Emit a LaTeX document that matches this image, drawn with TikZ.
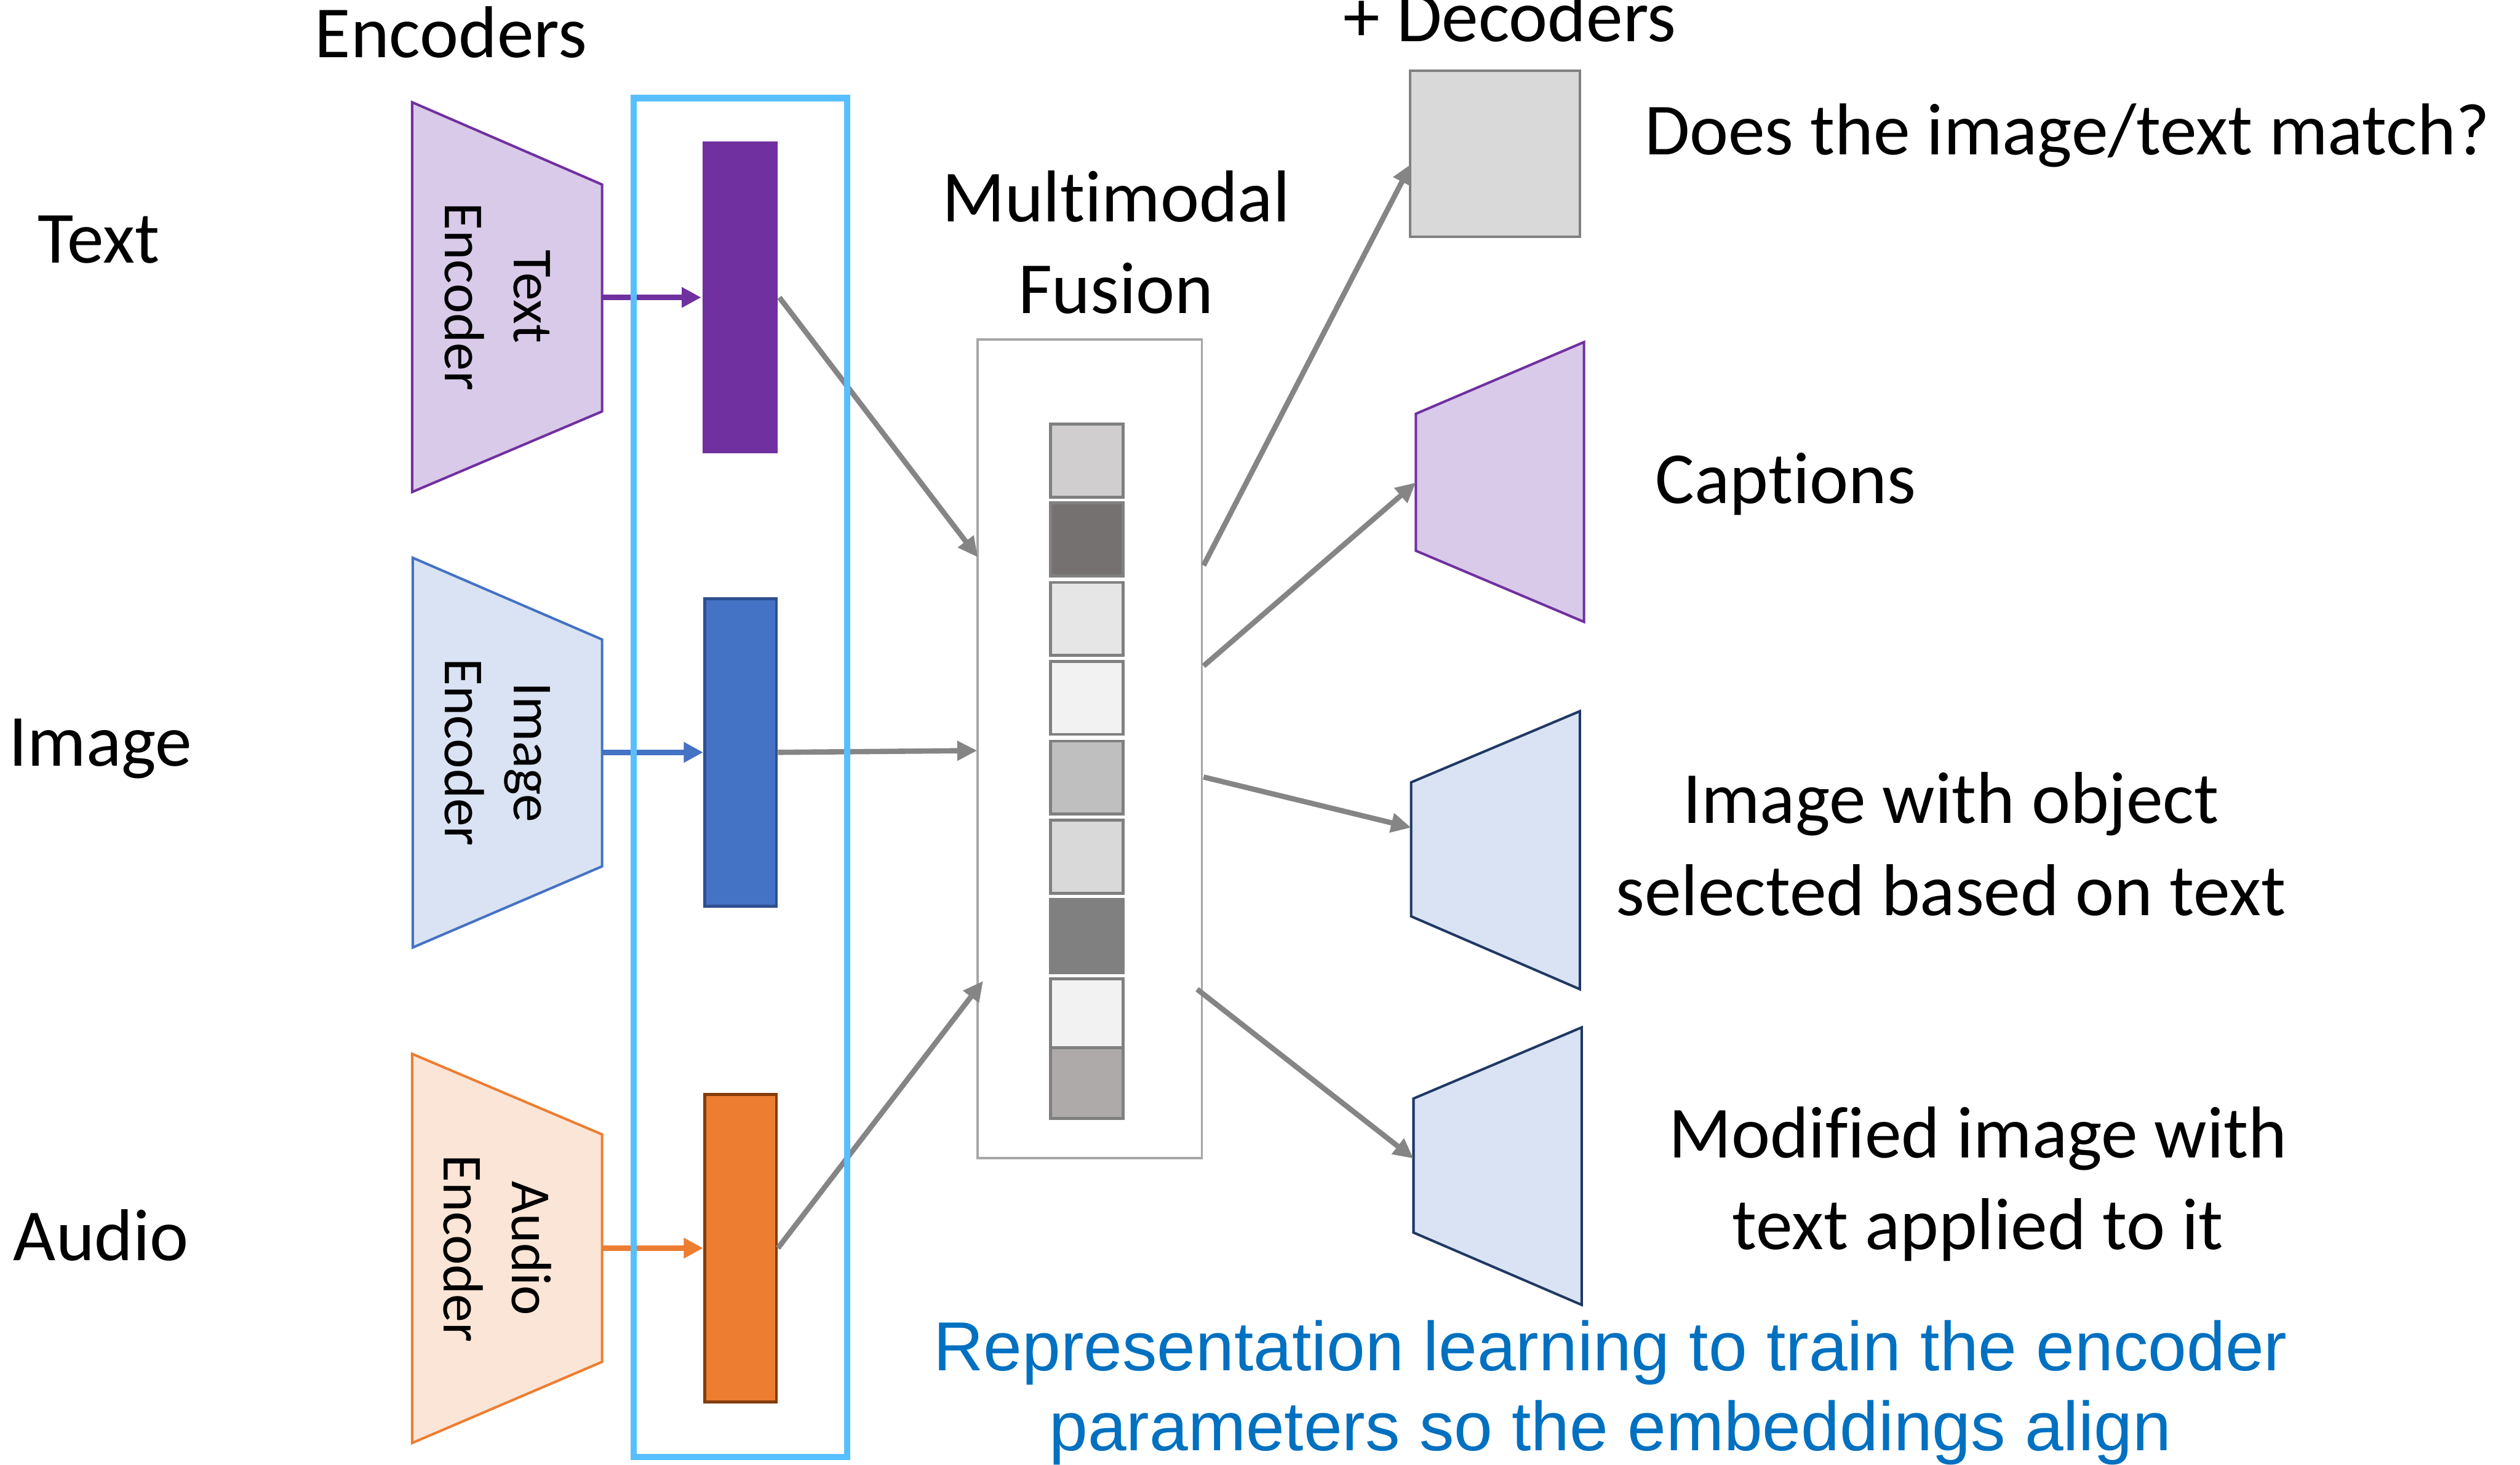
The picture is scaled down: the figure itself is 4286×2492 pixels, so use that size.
\documentclass[tikz,border=0pt]{standalone}
\usepackage{fontspec}
\setmainfont{Carlito}[Ligatures=NoCommon]
\newfontfamily\notefont{Liberation Sans}
\usetikzlibrary{arrows.meta}

\definecolor{txtfill}{HTML}{D9CAE9}
\definecolor{txtline}{HTML}{7030A0}
\definecolor{imgfill}{HTML}{DAE3F3}
\definecolor{imgline}{HTML}{4472C4}
\definecolor{imgbarline}{HTML}{2F4F8F}
\definecolor{audfill}{HTML}{FBE5D6}
\definecolor{audline}{HTML}{ED7D31}
\definecolor{audbarline}{HTML}{843C0C}
\definecolor{decline}{HTML}{203864}
\definecolor{embframe}{HTML}{57BFFF}
\definecolor{fuseframe}{HTML}{A6A6A6}
\definecolor{cellline}{HTML}{808080}
\definecolor{linkgray}{HTML}{858585}
\definecolor{noteblue}{HTML}{0070C0}
\definecolor{matchfill}{HTML}{D9D9D9}
% fusion vector entries, top to bottom
\definecolor{cellA}{HTML}{D0CECE}
\definecolor{cellB}{HTML}{767171}
\definecolor{cellC}{HTML}{E6E6E6}
\definecolor{cellD}{HTML}{F2F2F2}
\definecolor{cellE}{HTML}{BFBFBF}
\definecolor{cellF}{HTML}{D9D9D9}
\definecolor{cellG}{HTML}{808080}
\definecolor{cellH}{HTML}{F2F2F2}
\definecolor{cellI}{HTML}{AEAAAA}

\begin{document}
\begin{tikzpicture}[x=0.2pt, y=-0.2pt,
  headtxt/.style={inner sep=0pt, font=\fontsize{25}{31.2}\selectfont, align=center},
  enclabel/.style={inner sep=0pt, rotate=-90, align=center, font=\fontsize{19.2}{23.4}\selectfont},
  coder/.style={line width=0.85pt, line join=miter},
  embbar/.style={inner sep=0pt, minimum width=24.4pt, minimum height=104.6pt, line width=1pt},
  feed/.style={line width=2pt, -{Triangle[length=6.6pt,width=6.6pt]}},
  link/.style={draw=linkgray, line width=1.8pt, -{Triangle[length=6.8pt,width=6.4pt]}, color=linkgray},
  cell/.style={draw=cellline, line width=1pt, minimum width=24.8pt, minimum height=24.8pt, inner sep=0pt},
]
\useasboundingbox (0,0) rectangle (4286,2492);

% ---------- encoders ----------
\draw[coder, draw=txtline, fill=txtfill] (701,174) -- (1024,314) -- (1024,700) -- (701,837) -- cycle;
\draw[coder, draw=imgline, fill=imgfill] (702,949) -- (1024,1088) -- (1024,1474) -- (702,1612) -- cycle;
\draw[coder, draw=audline, fill=audfill] (701,1793) -- (1024,1930) -- (1024,2317) -- (701,2455) -- cycle;
\coordinate (txtout) at (1024,506);
\coordinate (imgout) at (1024,1280);
\coordinate (audout) at (1024,2123.5);

\node[enclabel] (tenc) at (846,505) {Text\\Encoder};
\node[enclabel] (ienc) at (846,1280) {Image\\Encoder};
\node[enclabel] (aenc) at (846,2124) {Audio\\Encoder};

% ---------- embeddings ----------
\node[embbar, fill=txtline, minimum width=25.6pt, minimum height=106pt] (tbar) at (1259,506) {};
\node[embbar, fill=imgline, draw=imgbarline] (ibar) at (1259.5,1280) {};
\node[embbar, fill=audline, draw=audbarline] (abar) at (1259.5,2123.5) {};

\draw[feed, draw=txtline, fill=txtline] (txtout) -- (tbar.west);
\draw[feed, draw=imgline, fill=imgline] (imgout) -- (ibar.west);
\draw[feed, draw=audline, fill=audline] (audout) -- (abar.west);

% ---------- fusion ----------
\node[draw=fuseframe, line width=0.8pt, minimum width=76.2pt, minimum height=278.4pt, inner sep=0pt] (fusion) at (1853.5,1274) {};
\foreach \i/\y/\c in {1/783.6/cellA, 2/917.7/cellB, 3/1052.8/cellC, 4/1187.4/cellD,
                      5/1322.9/cellE, 6/1457.5/cellF, 7/1592.5/cellG, 8/1727/cellH}
  \node[cell, fill=\c] (cell\i) at (1848.5,\y) {};
\node[cell, fill=cellI, minimum height=24pt] (cell9) at (1848.5,1842.8) {};

\coordinate (fin1) at (1663,948);
\coordinate (fin2) at (1662,1277);
\coordinate (fin3) at (1672,1669);
\draw[link] (tbar.east) -- (fin1);
\draw[link] (ibar.east) -- (fin2);
\draw[link] (abar.east) -- (fin3);

% frame around the embeddings
\node[draw=embframe, line width=2.2pt, minimum width=72.6pt, minimum height=462.4pt, inner sep=0pt] (embframe) at (1259.5,1323) {};

% ---------- decoders ----------
\node[draw=cellline, fill=matchfill, line width=0.8pt, minimum width=57.8pt, minimum height=56.6pt, inner sep=0pt] (match) at (2542.5,261.5) {};
\draw[coder, draw=txtline, fill=txtfill] (2408,704) -- (2694,582) -- (2694,1058) -- (2408,937) -- cycle;
\draw[coder, draw=decline, fill=imgfill] (2400,1331) -- (2687,1210) -- (2687,1683) -- (2400,1559) -- cycle;
\draw[coder, draw=decline, fill=imgfill] (2404,1869) -- (2690,1748) -- (2690,2220) -- (2404,2097) -- cycle;

\coordinate (fout1) at (2047,962);
\coordinate (fout2) at (2047,1133);
\coordinate (fout3) at (2047,1322);
\coordinate (fout4) at (2036,1683);
\coordinate (matchin) at (2400,279);
\coordinate (capin) at (2408,821);
\coordinate (selin) at (2400,1408);
\coordinate (modin) at (2404,1971);
\draw[link] (fout1) -- (matchin);
\draw[link] (fout2) -- (capin);
\draw[link] (fout3) -- (selin);
\draw[link] (fout4) -- (modin);

% ---------- text (base anchor of a multi-line node = last line) ----------
\node[headtxt, anchor=base] (enchead) at (767,98) {Encoders};
\node[headtxt, anchor=base] (dechead) at (2568,71) {+ Decoders};
\node[headtxt, anchor=base] (modtext) at (168,447) {Text};
\node[headtxt, anchor=base] (modimage) at (171,1303) {Image};
\node[headtxt, anchor=base] (modaudio) at (172,2145) {Audio};
\node[headtxt, anchor=base] (fusehead) at (1898,533) {Multimodal\\Fusion};
\node[headtxt, anchor=base west] (task1) at (2796,263) {Does the image/text match?};
\node[headtxt, anchor=base] (task2) at (3037,856) {Captions};
\node[headtxt, anchor=base] (task3) at (3318,1557) {Image with object\\selected based on text};
\node[headtxt, anchor=base] (task4) at (3364,2126) {Modified image with\\text applied to it};
\node[inner sep=0pt, align=center, font=\notefont\fontsize{23.6}{27.2}\selectfont, text=noteblue, anchor=base] (note) at (2739,2468)
  {Representation learning to train the encoder\\parameters so the embeddings align};
\end{tikzpicture}
\end{document}
